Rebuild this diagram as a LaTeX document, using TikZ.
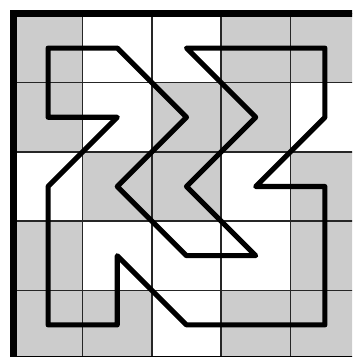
\documentclass[tikz,border=0pt]{standalone}
\begin{document}
\begin{tikzpicture}[
  cellfill/.style={fill=black!20},
  gridline/.style={draw=black!85, line width=0.6pt},
  border/.style={draw=black, line width=2.7pt},
  route/.style={draw=black, line width=2.1pt, line join=round}
]
\useasboundingbox (-0.195,0.195) rectangle (4.892,-4.964);
\clip (-0.195,0.195) rectangle (4.892,-4.964);
% shaded cells: row r (from top), column c (from left)
\foreach \r/\c in {1/1,1/4,1/5, 2/1,2/3,2/4, 3/2,3/3,3/5, 4/1,4/5, 5/1,5/2,5/4,5/5}
  \fill[cellfill] (\c-1,-\r+1) rectangle (\c,-\r);
\draw[gridline] (0,0) grid (5,-5);
\draw[border] (0,0) rectangle (5,-5);
\coordinate (p1) at (0.5,-0.5);
\coordinate (p2) at (1.5,-0.5);
\coordinate (p3) at (2.5,-1.5);
\coordinate (p4) at (1.5,-2.5);
\coordinate (p5) at (2.5,-3.5);
\coordinate (p6) at (3.5,-3.5);
\coordinate (p7) at (2.5,-2.5);
\coordinate (p8) at (3.5,-1.5);
\coordinate (p9) at (2.5,-0.5);
\coordinate (p10) at (4.5,-0.5);
\coordinate (p11) at (4.5,-1.5);
\coordinate (p12) at (3.5,-2.5);
\coordinate (p13) at (4.5,-2.5);
\coordinate (p14) at (4.5,-4.5);
\coordinate (p15) at (2.5,-4.5);
\coordinate (p16) at (1.5,-3.5);
\coordinate (p17) at (1.5,-4.5);
\coordinate (p18) at (0.5,-4.5);
\coordinate (p19) at (0.5,-2.5);
\coordinate (p20) at (1.5,-1.5);
\coordinate (p21) at (0.5,-1.5);
\draw[route] (p1) -- (p2) -- (p3) -- (p4) -- (p5) -- (p6) -- (p7) -- (p8) -- (p9) -- (p10) -- (p11) -- (p12) -- (p13) -- (p14) -- (p15) -- (p16) -- (p17) -- (p18) -- (p19) -- (p20) -- (p21) -- cycle;
\end{tikzpicture}
\end{document}
